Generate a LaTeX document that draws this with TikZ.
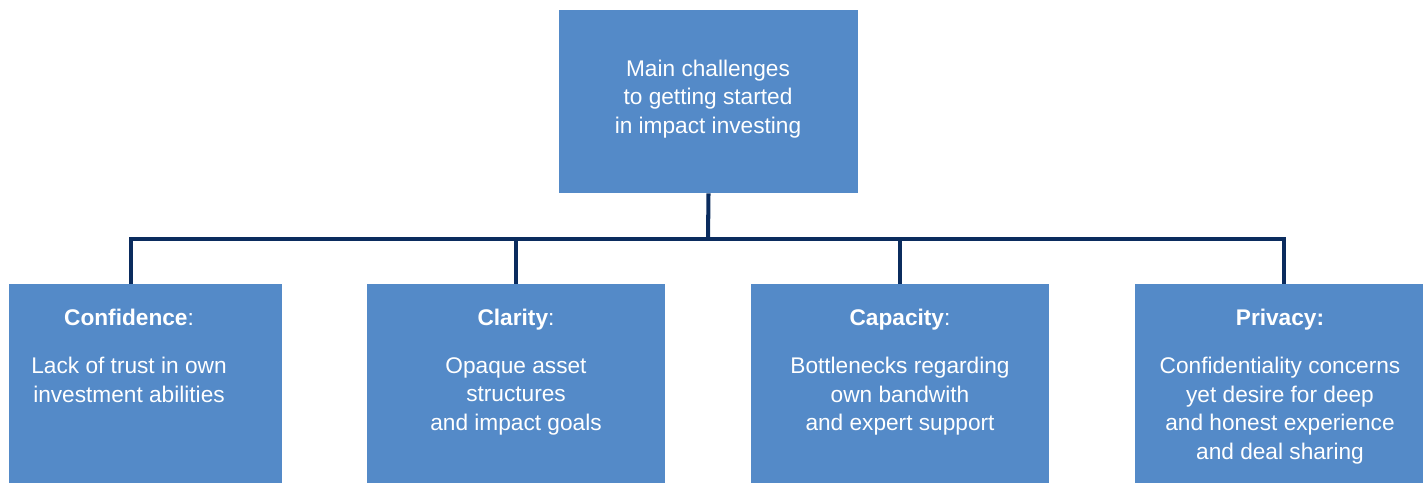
\documentclass[tikz,border=0pt]{standalone}
\usepackage{fontspec}
\setmainfont{Liberation Sans}
\definecolor{boxblue}{HTML}{548AC8}
\definecolor{linknavy}{HTML}{0B2C5E}
\tikzset{
  box/.style={fill=boxblue, inner sep=0pt, minimum height=#1},
  txt/.style={text=white, align=center, inner sep=0pt, font=\fontsize{12.9pt}{16.2pt}\selectfont},
  link/.style={draw=linknavy, line width=2.3pt}
}
\begin{document}
\begin{tikzpicture}[x=0.02cm, y=-0.02cm]
\useasboundingbox (0,0) rectangle (1428,483);

% Top box
\node[box=3.66cm, minimum width=5.98cm] (main) at (708.5,101.5) {};
\node[txt] (maintxt) at (708,99) {Main challenges\\to getting started\\in impact investing};

% Bottom boxes
\node[box=3.98cm, minimum width=5.46cm] (conf) at (145.5,383.5) {};
\node[box=3.98cm, minimum width=5.96cm] (clar) at (516,383.5) {};
\node[box=3.98cm, minimum width=5.96cm] (capa) at (900,383.5) {};
\node[box=3.98cm, minimum width=5.76cm] (priv) at (1279,383.5) {};

% Titles
\node[txt, anchor=base] (t1) at (129,325) {\textbf{Confidence}:};
\node[txt, anchor=base] (t2) at (516,325) {\textbf{Clarity}:};
\node[txt, anchor=base] (t3) at (900,325) {\textbf{Capacity}:};
\node[txt, anchor=base] (t4) at (1280,325) {\textbf{Privacy:}};

% Descriptions
\node[txt, anchor=north] (d1) at (129,357) {Lack of trust in own\\investment abilities};
\node[txt, anchor=north] (d2) at (516,357) {Opaque asset\\structures\\and impact goals};
\node[txt, anchor=north] (d3) at (900,357) {Bottlenecks regarding\\own bandwith\\and expert support};
\node[txt, anchor=north] (d4) at (1280,357) {Confidentiality concerns\\yet desire for deep\\and honest experience\\and deal sharing};

% Connectors
\coordinate (bar) at (708,239);
\coordinate (j1) at (131,239);
\coordinate (j4) at (1284,239);
\draw[link] (main.south) -- (bar);
\draw[link] (j1 |- conf.north) -- (j1) -- (j4) -- (j4 |- priv.north);
\draw[link] (clar.north) -- (clar.north |- bar);
\draw[link] (capa.north) -- (capa.north |- bar);
\end{tikzpicture}
\end{document}
